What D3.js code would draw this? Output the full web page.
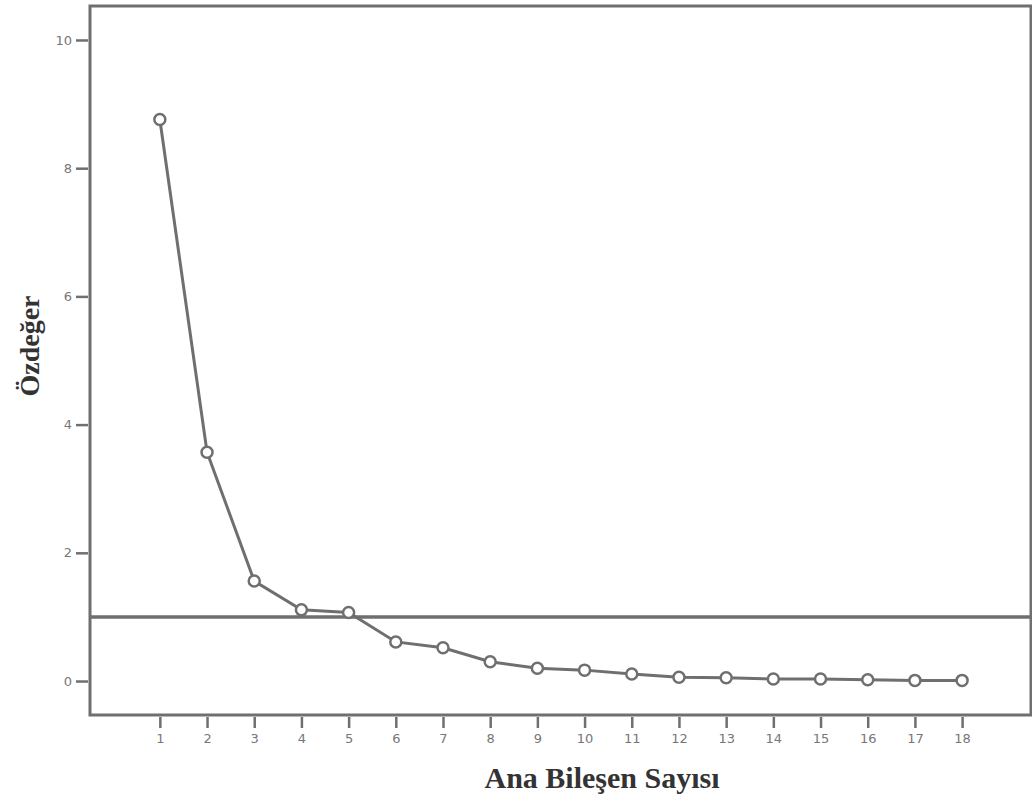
<!DOCTYPE html>
<html>
<head>
<meta charset="utf-8">
<script src="https://cdn.jsdelivr.net/npm/d3@7"></script>
<style>
body { margin:0; background:#fff; }
</style>
</head>
<body>
<div id="chart"></div>
<script>
// scree plot data
var components = d3.range(1, 19);
var eigenvalues = [8.76, 3.57, 1.56, 1.11, 1.07, 0.61, 0.52, 0.30, 0.20, 0.17, 0.11, 0.06, 0.05, 0.03, 0.03, 0.02, 0.01, 0.01];
var y_ticks = [0, 2, 4, 6, 8, 10];
var cutoff = 1;
var x_title = "Ana Bileşen Sayısı";
var y_title = "Özdeğer";

var grey = "#6f6f6f";
var svg = d3.select("#chart").append("svg")
    .attr("width", 1032)
    .attr("height", 806);

var x = d3.scaleLinear([-0.48, 19.46], [90, 1031]);
var y = d3.scaleLinear([-0.53, 10.53], [715, 6]);
var pts = components.map((c, i) => ({c: c, v: eigenvalues[i]}));

// axes
var yax = svg.append("g")
    .attr("transform", "translate(88,0)")
    .call(d3.axisLeft(y).tickValues(y_ticks).tickSize(12).tickPadding(4).tickFormat(d3.format("d")));
var xax = svg.append("g")
    .attr("transform", "translate(0,717)")
    .call(d3.axisBottom(x).tickValues(components).tickSize(11).tickPadding(6).tickFormat(d3.format("d")));
[yax, xax].forEach(a => {
    a.select(".domain").remove();
    a.selectAll("line").style("stroke", grey).style("stroke-width", 2.5);
    a.selectAll("text")
	.style("font-family", "DejaVu Sans")
	.style("font-size", "13px")
	.style("fill", "#777");
});

// frame
svg.append("rect")
    .attr("x", 90).attr("y", 6)
    .attr("width", 941).attr("height", 709)
    .style("fill", "none")
    .style("stroke", grey)
    .style("stroke-width", 3);

// eigenvalue = 1 line
svg.append("line")
    .attr("x1", 90).attr("x2", 1032)
    .attr("y1", y(cutoff)).attr("y2", y(cutoff))
    .style("stroke", grey)
    .style("stroke-width", 3.5);

svg.append("path")
    .datum(pts)
    .attr("d", d3.line().x(d => x(d.c)).y(d => y(d.v)))
    .style("fill", "none")
    .style("stroke", grey)
    .style("stroke-width", 3);

svg.selectAll(".pt")
    .data(pts)
    .enter().append("circle")
    .attr("class", "pt")
    .attr("cx", d => x(d.c))
    .attr("cy", d => y(d.v))
    .attr("r", 5.5)
    .style("fill", "#fff")
    .style("stroke", grey)
    .style("stroke-width", 2.5);

// titles
svg.append("text")
    .attr("x", 602).attr("y", 788)
    .attr("text-anchor", "middle")
    .style("font-family", "Liberation Serif")
    .style("font-weight", "bold")
    .style("font-size", "30px")
    .style("fill", "#333")
    .text(x_title);
svg.append("text")
    .attr("transform", "translate(39,346) rotate(-90)")
    .attr("text-anchor", "middle")
    .style("font-family", "Liberation Serif")
    .style("font-weight", "bold")
    .style("font-size", "28px")
    .style("fill", "#333")
    .text(y_title);
</script>
</body>
</html>
